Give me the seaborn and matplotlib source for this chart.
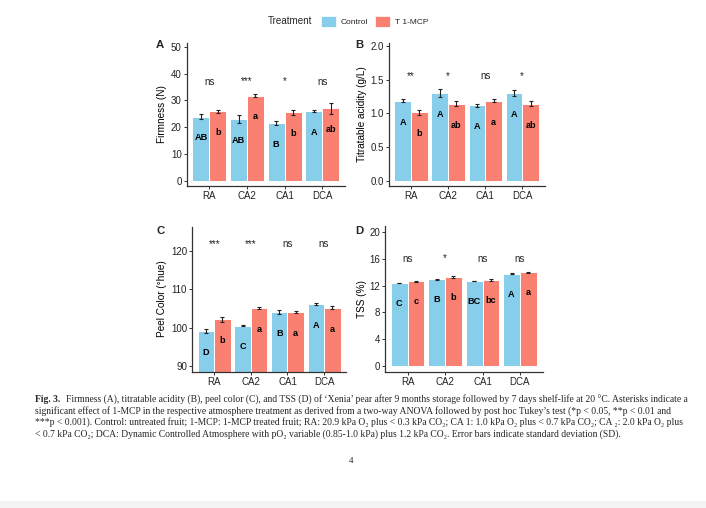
import matplotlib
matplotlib.use("Agg")
import matplotlib.pyplot as plt
from matplotlib.patches import Patch, Rectangle
import numpy as np
import pandas as pd
import seaborn as sns

# ---------------- data ----------------
atmospheres = ["RA", "CA2", "CA1", "DCA"]
treatments = ["Control", "T 1-MCP"]

firm_ctrl = [23.9, 23.1, 21.6, 26.0]
firm_ctrl_sd = [1.0, 1.5, 0.75, 0.3]
firm_mcp = [25.9, 31.8, 25.5, 27.1]
firm_mcp_sd = [0.6, 0.6, 0.9, 2.0]
firm_let_ctrl = ["AB", "AB", "B", "A"]
firm_let_mcp = ["b", "a", "b", "ab"]
firm_sig = ["ns", "***", "*", "ns"]

acid_ctrl = [1.19, 1.30, 1.12, 1.30]
acid_ctrl_sd = [0.025, 0.064, 0.025, 0.05]
acid_mcp = [1.015, 1.145, 1.19, 1.145]
acid_mcp_sd = [0.037, 0.037, 0.025, 0.04]
acid_let_ctrl = ["A", "A", "A", "A"]
acid_let_mcp = ["b", "ab", "a", "ab"]
acid_sig = ["**", "*", "ns", "*"]

color_ctrl = [99.1, 100.45, 104.0, 106.1]
color_ctrl_sd = [0.4, 0.15, 0.48, 0.17]
color_mcp = [102.2, 105.0, 104.0, 105.1]
color_mcp_sd = [0.65, 0.26, 0.2, 0.4]
color_let_ctrl = ["D", "C", "B", "A"]
color_let_mcp = ["b", "a", "a", "a"]
color_sig = ["***", "***", "ns", "ns"]

tss_ctrl = [12.43, 12.98, 12.73, 13.83]
tss_ctrl_sd = [0.06, 0.1, 0.06, 0.06]
tss_mcp = [12.68, 13.33, 12.93, 14.03]
tss_mcp_sd = [0.05, 0.15, 0.15, 0.05]
tss_let_ctrl = ["C", "B", "BC", "A"]
tss_let_mcp = ["c", "b", "bc", "a"]
tss_sig = ["ns", "*", "ns", "ns"]

caption_head = "Fig. 3."
caption_lines = [
    "Firmness (A), titratable acidity (B), peel color (C), and TSS (D) of \u2018Xenia\u2019 pear after 9 months storage followed by 7 days shelf-life at 20 \u00b0C. Asterisks indicate a",
    "significant effect of 1-MCP in the respective atmosphere treatment as derived from a two-way ANOVA followed by post hoc Tukey\u2019s test (*p < 0.05, **p < 0.01 and",
    "***p < 0.001). Control: untreated fruit; 1-MCP: 1-MCP treated fruit; RA: 20.9 kPa O\u2082 plus < 0.3 kPa CO\u2082; CA 1: 1.0 kPa O\u2082 plus < 0.7 kPa CO\u2082; CA \u2082: 2.0 kPa O\u2082 plus",
    "< 0.7 kPa CO\u2082; DCA: Dynamic Controlled Atmosphere with pO\u2082 variable (0.85-1.0 kPa) plus 1.2 kPa CO\u2082. Error bars indicate standard deviation (SD).",
]
page_number = "4"

# ---------------- style ----------------
sns.set_style("ticks")
plt.rcParams["font.family"] = ["Liberation Sans", "DejaVu Sans"]
C_CTRL = "#87CEEB"
C_MCP = "#FA8072"
AX_COL = "#333333"

W, H = 706, 508
fig = plt.figure(figsize=(W / 100, H / 100), dpi=100)
fig.patch.set_facecolor("white")


def px_axes(l, t, r, b):
    return fig.add_axes([l / W, 1 - b / H, (r - l) / W, (b - t) / H])


panels = [
    dict(box=(186.8, 43, 344.8, 185.5), ctrl=firm_ctrl, csd=firm_ctrl_sd, mcp=firm_mcp, msd=firm_mcp_sd,
         lc=firm_let_ctrl, lm=firm_let_mcp, sig=firm_sig, ylabel="Firmness (N)",
         ylim=(-1.75, 51.4), ticks=[0, 10, 20, 30, 40, 50], fmt="{:.0f}", loff=7.9, sigy=35.9,
         tag="A", tagpos=(160, 44.5), ylx=161.7),
    dict(box=(388.8, 43, 544.5, 186), ctrl=acid_ctrl, csd=acid_ctrl_sd, mcp=acid_mcp, msd=acid_mcp_sd,
         lc=acid_let_ctrl, lm=acid_let_mcp, sig=acid_sig, ylabel="Titratable acidity (g/L)",
         ylim=(-0.08, 2.045), ticks=[0, 0.5, 1.0, 1.5, 2.0], fmt="{:.1f}", loff=0.32, sigy=1.505,
         tag="B", tagpos=(359, 45), ylx=361.7),
    dict(box=(192.3, 226.5, 346, 371.7), ctrl=color_ctrl, csd=color_ctrl_sd, mcp=color_mcp, msd=color_mcp_sd,
         lc=color_let_ctrl, lm=color_let_mcp, sig=color_sig, ylabel="Peel Color (\u00b0hue)",
         ylim=(88.5, 126.3), ticks=[90, 100, 110, 120], fmt="{:.0f}", loff=5.5, sigy=121.04,
         tag="C", tagpos=(160.7, 230.7), ylx=161.7),
    dict(box=(385, 226.5, 542.5, 371.7), ctrl=tss_ctrl, csd=tss_ctrl_sd, mcp=tss_mcp, msd=tss_mcp_sd,
         lc=tss_let_ctrl, lm=tss_let_mcp, sig=tss_sig, ylabel="TSS (%)",
         ylim=(-0.9, 20.9), ticks=[0, 4, 8, 12, 16, 20], fmt="{:.0f}", loff=3.1, sigy=15.64,
         tag="D", tagpos=(359.3, 230.7), ylx=361.7),
]

for p in panels:
    l, t, r, b = p["box"]
    ax = px_axes(l, t, r, b)
    df = pd.DataFrame({
        "atm": atmospheres * 2,
        "treatment": [treatments[0]] * 4 + [treatments[1]] * 4,
        "value": list(p["ctrl"]) + list(p["mcp"]),
    })
    sns.barplot(data=df, x="atm", y="value", hue="treatment", order=atmospheres,
                hue_order=treatments, palette=[C_CTRL, C_MCP], width=0.9, saturation=1,
                edgecolor="white", linewidth=0.7, errorbar=None, legend=False, ax=ax)
    sds = [p["csd"], p["msd"]]
    lets = [p["lc"], p["lm"]]
    bar_containers = list(ax.containers)
    for ci, cont in enumerate(bar_containers):
        xs = [bar.get_x() + bar.get_width() / 2 for bar in cont]
        hs = [bar.get_height() for bar in cont]
        ax.errorbar(xs, hs, yerr=sds[ci], fmt="none", ecolor="#222222",
                    elinewidth=0.8, capsize=1.5, capthick=0.8, zorder=5)
        for x, h, s in zip(xs, hs, lets[ci]):
            ax.text(x, h - p["loff"], s, ha="center", va="center", fontsize=6.6,
                    fontweight="bold", color="black", zorder=6)
    for i, s in enumerate(p["sig"]):
        ax.text(i, p["sigy"], s, ha="center", va="baseline", fontsize=7, color="#222222")
    ax.set_xlim(-0.6, 3.6)
    ax.set_ylim(*p["ylim"])
    ax.set_yticks(p["ticks"])
    ax.set_yticklabels([p["fmt"].format(v) for v in p["ticks"]])
    ax.set_xlabel("")
    ax.set_ylabel(p["ylabel"], fontsize=7.2, color="black", va="center")
    ax.yaxis.set_label_coords((p["ylx"] - l) / (r - l), 0.5)
    sns.despine(ax=ax)
    for sp in ("left", "bottom"):
        ax.spines[sp].set_color(AX_COL)
        ax.spines[sp].set_linewidth(0.9)
    ax.tick_params(axis="both", labelsize=7, colors=AX_COL, length=2.2, width=0.7, pad=1.5)
    ax.tick_params(axis="both", labelcolor="#222222")
    ax.set_facecolor("white")
    fig.text(p["tagpos"][0] / W, 1 - p["tagpos"][1] / H, p["tag"], ha="center", va="center",
             fontsize=8.2, fontweight="bold")

# legend
fig.text(268 / W, 1 - 21 / H, "Treatment", fontsize=7.1, va="center", ha="left")
handles = [Patch(facecolor=C_CTRL, edgecolor="white", linewidth=0.5),
           Patch(facecolor=C_MCP, edgecolor="white", linewidth=0.5)]
fs_leg = 6.0
fpx = fs_leg * 100 / 72
fig.legend(handles=handles, labels=treatments, ncol=2, frameon=False, fontsize=fs_leg,
           loc="center left", bbox_to_anchor=(321 / W, 1 - 21.3 / H), borderaxespad=0,
           borderpad=0, handlelength=15 / fpx, handleheight=14 / fpx,
           handletextpad=4.7 / fpx, columnspacing=7 / fpx)

# ---------------- caption ----------------
renderer = fig.canvas.get_renderer()
SERIF = ["Liberation Serif", "DejaVu Serif"]


def text_width(s, fs, weight="normal"):
    t = fig.text(0, 0, s, fontsize=fs, family=SERIF, fontweight=weight)
    w = t.get_window_extent(renderer).width
    t.remove()
    return w


x0 = 35.0
head_gap = 6.0
w1 = text_width(caption_head, 10, "bold") + text_width(caption_lines[0], 10)
w4 = text_width(caption_lines[3], 10)
fs_a = 10 * (658 - head_gap) / w1
fs_b = 10 * (617 - x0) / w4
cap_fs = 0.5 * (fs_a + fs_b)
line_base = [402.5, 413.8, 425.1, 436.4]

head_w = text_width(caption_head, cap_fs, "bold")
fig.text(x0 / W, 1 - line_base[0] / H, caption_head, fontsize=cap_fs, family=SERIF,
         fontweight="bold", va="baseline", ha="left")
for li, line in enumerate(caption_lines):
    xs = x0 + (head_w + head_gap if li == 0 else 0)
    fig.text(xs / W, 1 - line_base[li] / H, line, fontsize=cap_fs, family=SERIF,
             va="baseline", ha="left")

fig.text(351 / W, 1 - 461 / H, page_number, fontsize=6.5, family=SERIF, ha="center", va="center")
fig.patches.append(Rectangle((0, 0), 1, 7 / H, transform=fig.transFigure,
                             facecolor="#f3f3f3", edgecolor="none"))

fig.savefig("out.png", dpi=100)
